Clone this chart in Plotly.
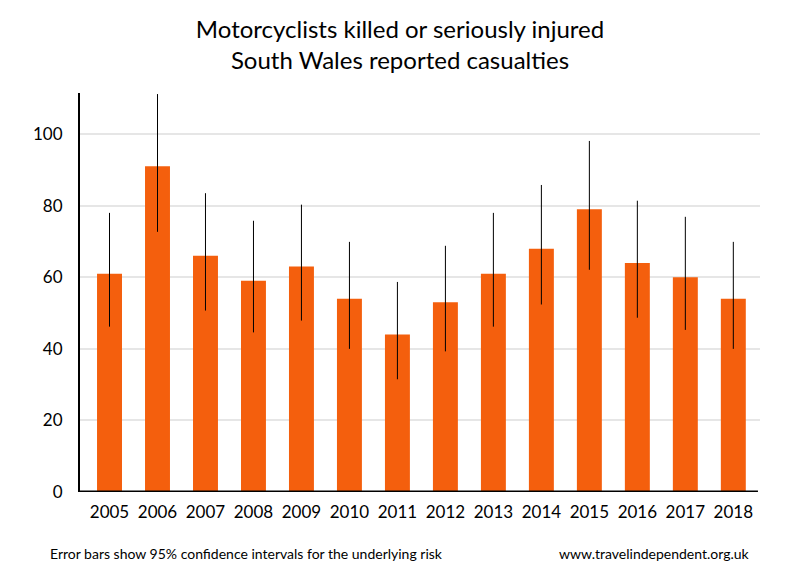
import plotly.graph_objects as go

years = ["2005", "2006", "2007", "2008", "2009", "2010", "2011",
         "2012", "2013", "2014", "2015", "2016", "2017", "2018"]
casualties = [61, 91, 66, 59, 63, 54, 44, 53, 61, 68, 79, 64, 60, 54]
ci_upper = [78.0, 111.2, 83.5, 75.8, 80.3, 69.9, 58.7, 68.8, 78.0, 85.8, 98.1, 81.4, 76.9, 69.9]
ci_lower = [46.2, 72.7, 50.7, 44.6, 47.9, 40.0, 31.5, 39.3, 46.2, 52.4, 62.1, 48.7, 45.3, 40.0]

err_plus = [u - v for u, v in zip(ci_upper, casualties)]
err_minus = [v - l for v, l in zip(casualties, ci_lower)]

FONT = "Lato"

fig = go.Figure()
fig.add_trace(go.Bar(
    x=list(range(len(years))), y=casualties,
    marker=dict(color="#F45F0D", line=dict(width=0)),
    width=0.52,
    error_y=dict(type="data", symmetric=False, array=err_plus, arrayminus=err_minus,
                 color="black", thickness=1, width=0),
    showlegend=False,
))

fig.update_layout(
    width=800, height=580,
    paper_bgcolor="white", plot_bgcolor="white",
    margin=dict(l=72, r=48, t=85, b=96),
    font=dict(family=FONT, color="black"),
    title=dict(text="Motorcyclists killed or seriously injured<br>South Wales reported casualties",
               x=0.49, xanchor="center", y=0.948, yanchor="top",
               font=dict(family=FONT, size=24, color="black")),
    xaxis=dict(range=[-0.615, 13.556], tickmode="array",
               tickvals=list(range(len(years))), ticktext=years,
               showgrid=False, zeroline=False, showline=False, ticks="",
               tickfont=dict(size=17, family=FONT), ticklabelstandoff=8),
    yaxis=dict(range=[0, 111.5], tickvals=[0, 20, 40, 60, 80, 100],
               showgrid=True, gridcolor="#E6E6E6", gridwidth=1.5,
               zeroline=False, showline=True, linecolor="black", linewidth=2,
               ticks="", tickfont=dict(size=17, family=FONT), ticklabelstandoff=12),
    shapes=[dict(type="line", xref="paper", yref="y", x0=0, x1=0.997, y0=0, y1=0,
                 line=dict(color="black", width=3))],
    annotations=[
        dict(text="Error bars show 95% confidence intervals for the underlying risk",
             xref="paper", yref="paper", x=-0.047, y=-0.153, xanchor="left", yanchor="middle",
             showarrow=False, font=dict(size=14, family=FONT)),
        dict(text="www.travelindependent.org.uk",
             xref="paper", yref="paper", x=0.988, y=-0.153, xanchor="right", yanchor="middle",
             showarrow=False, font=dict(size=14, family=FONT)),
    ],
)

fig.write_html("out.html")
